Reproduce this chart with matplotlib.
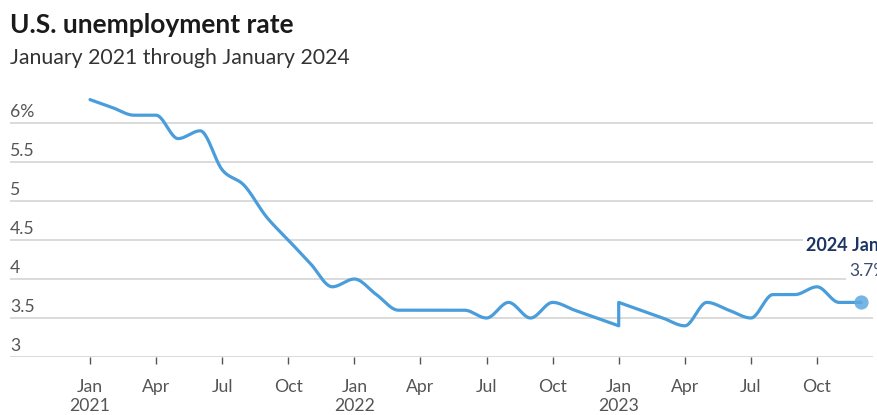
import numpy as np
import matplotlib
matplotlib.use('Agg')
import matplotlib.pyplot as plt

plt.rcParams['font.family'] = ['Lato', 'DejaVu Sans']

# monthly unemployment rate, % (the feed repeats Jan 2023)
dates = ['2021-01', '2021-02', '2021-03', '2021-04', '2021-05', '2021-06',
         '2021-07', '2021-08', '2021-09', '2021-10', '2021-11', '2021-12',
         '2022-01', '2022-02', '2022-03', '2022-04', '2022-05', '2022-06',
         '2022-07', '2022-08', '2022-09', '2022-10', '2022-11', '2022-12',
         '2023-01', '2023-01', '2023-02', '2023-03', '2023-04', '2023-05',
         '2023-06', '2023-07', '2023-08', '2023-09', '2023-10', '2023-11',
         '2023-12']
rates = [6.3, 6.2, 6.1, 6.1, 5.8, 5.9, 5.4, 5.2, 4.8, 4.5, 4.2, 3.9,
         4.0, 3.8, 3.6, 3.6, 3.6, 3.6, 3.5, 3.7, 3.5, 3.7, 3.6, 3.5,
         3.4, 3.7, 3.6, 3.5, 3.4, 3.7, 3.6, 3.5, 3.8, 3.8, 3.9, 3.7,
         3.7]
latest_label = '2024 Jan'

yticks = [3, 3.5, 4, 4.5, 5, 5.5, 6]
ytick_labels = ['3', '3.5', '4', '4.5', '5', '5.5', '6%']
month_names = ['Jan', 'Apr', 'Jul', 'Oct']
years = [2021, 2022, 2023]

LINE = '#4a9ddb'
GRID = '#d4d4d4'
TICK = '#555555'


def month_index(d):
    y, m = d.split('-')
    return (int(y) - 2021) * 12 + int(m) - 1


def monotone(x, y, n=24):
    # d3-style monotoneX curve through the points
    x = np.asarray(x, float)
    y = np.asarray(y, float)
    h = np.diff(x)
    s = np.diff(y) / h
    t = np.zeros_like(y)
    for i in range(1, len(y) - 1):
        p = (s[i - 1] * h[i] + s[i] * h[i - 1]) / (h[i - 1] + h[i])
        t[i] = (np.sign(s[i - 1]) + np.sign(s[i])) * min(abs(s[i - 1]), abs(s[i]), 0.5 * abs(p))
    t[0] = (3 * s[0] - t[1]) / 2
    t[-1] = (3 * s[-1] - t[-2]) / 2
    xs, ys = [], []
    u = np.linspace(0, 1, n)
    h00 = 2 * u**3 - 3 * u**2 + 1
    h10 = u**3 - 2 * u**2 + u
    h01 = -2 * u**3 + 3 * u**2
    h11 = u**3 - u**2
    for i in range(len(h)):
        xs.append(x[i] + u * h[i])
        ys.append(h00 * y[i] + h10 * h[i] * t[i] + h01 * y[i + 1] + h11 * h[i] * t[i + 1])
    return np.concatenate(xs), np.concatenate(ys)


x = np.array([month_index(d) for d in dates], float)
y = np.array(rates, float)

# break the curve where two points share a month
cuts = np.where(np.diff(x) == 0)[0] + 1
cx, cy = [], []
for seg_x, seg_y in zip(np.split(x, cuts), np.split(y, cuts)):
    sx, sy = monotone(seg_x, seg_y)
    cx.append(sx)
    cy.append(sy)
cx = np.concatenate(cx)
cy = np.concatenate(cy)

W, H = 878, 415
fig = plt.figure(figsize=(W / 100, H / 100), dpi=100)
ax = fig.add_axes([10 / W, (H - 357) / H, 863 / W, 273 / H])

px_per_month = 22.03
ax.set_xlim((10 - 90) / px_per_month, (873 - 90) / px_per_month)
ax.set_ylim(3, 6.5)

for v, lab in zip(yticks, ytick_labels):
    ax.axhline(v, color=GRID, lw=1.2, zorder=1)
    ax.annotate(lab, (0, v), xycoords=ax.get_yaxis_transform(),
                xytext=(0, 6), textcoords='offset pixels',
                ha='left', va='baseline', fontsize=12.7, color=TICK)

ax.plot(cx, cy, color=LINE, lw=2.3, solid_joinstyle='round',
        solid_capstyle='round', zorder=3)
ax.scatter([x[-1]], [y[-1]], s=105, color='#5fa9e0', alpha=0.85,
           zorder=4, clip_on=False, linewidths=0)

# latest value callout, running off the right edge
ax.annotate(latest_label, (x[-1], y[-1]), xytext=(-55, 51),
            textcoords='offset pixels', ha='left', va='baseline',
            fontsize=13, fontweight='bold', color='#1c3563',
            bbox=dict(boxstyle='square,pad=0.15', fc='white', ec='none'),
            annotation_clip=False, zorder=5)
ax.annotate(f'{rates[-1]}%', (x[-1], y[-1]), xytext=(-12, 26),
            textcoords='offset pixels', ha='left', va='baseline',
            fontsize=12.5, color='#3b4a6e',
            bbox=dict(boxstyle='square,pad=0.15', fc='white', ec='none'),
            annotation_clip=False, zorder=5)

xt = list(range(0, 34, 3))
xl = []
for m in xt:
    name = month_names[(m % 12) // 3]
    if m % 12 == 0:
        name += '\n' + str(years[m // 12])
    xl.append(name)
ax.set_xticks(xt)
ax.set_xticklabels(xl, fontsize=12.7, color=TICK, linespacing=1.25)
ax.tick_params(axis='x', length=5, width=1, color='#555555', pad=11)
ax.set_yticks([])
for sp in ax.spines.values():
    sp.set_visible(False)

fig.text(10 / W, 1 - 33 / H, 'U.S. unemployment rate', fontsize=19,
         fontweight='bold', color='#1a1a1a', ha='left', va='baseline')
fig.text(10 / W, 1 - 64 / H, 'January 2021 through January 2024',
         fontsize=15.3, color='#333333', ha='left', va='baseline')

fig.savefig('out.png', dpi=100)
